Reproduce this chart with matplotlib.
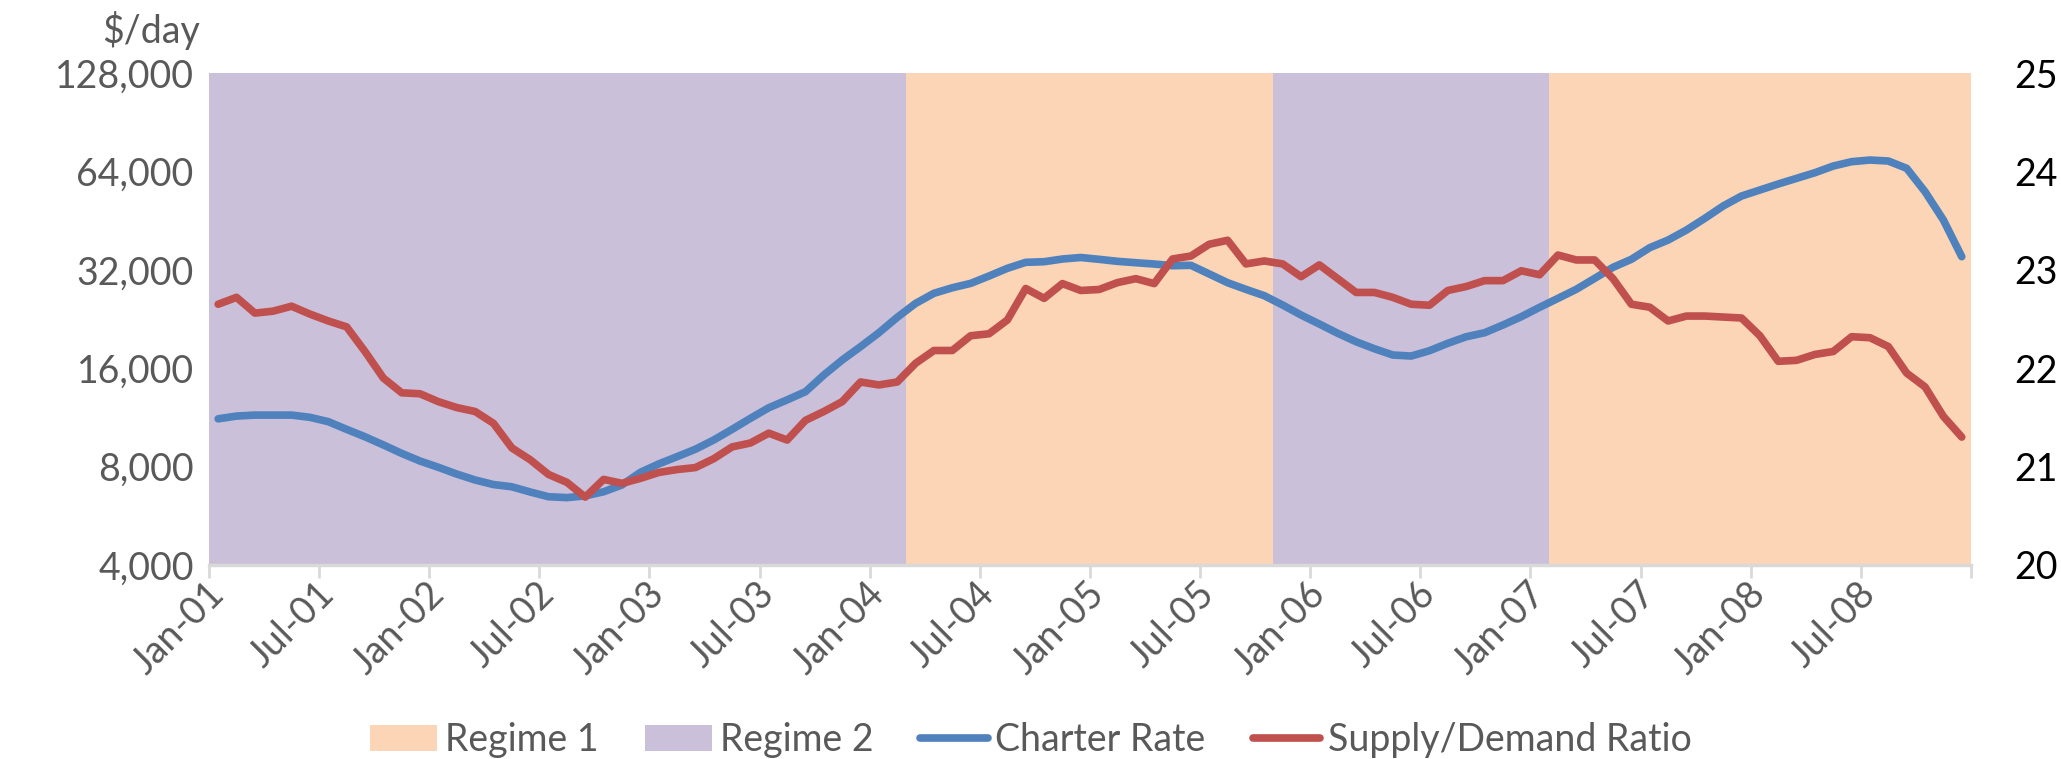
#!/usr/bin/env python3
"""
Charter rate vs supply/demand ratio, with regime shading.
"""

import numpy as np
import matplotlib

matplotlib.use("Agg")
import matplotlib.pyplot as plt
from matplotlib.lines import Line2D
from matplotlib.patches import Patch
from matplotlib.ticker import FuncFormatter, NullLocator

# =====================================================================
# Data (monthly, Jan-01 .. Dec-08)
# =====================================================================

charter_rate = [
    11200, 11420, 11500, 11500, 11500, 11320, 10980, 10400, 9870, 9320,
    8780, 8320, 7960, 7590, 7280, 7050, 6940, 6690, 6470, 6430,
    6510, 6700, 7030, 7680, 8150, 8580, 9040, 9650, 10400, 11240,
    12110, 12800, 13560, 15250, 16950, 18620, 20540, 22900, 25260, 27120,
    28200, 29080, 30630, 32340, 33730, 33880, 34530, 34900, 34450, 33970,
    33640, 33330, 32940, 33030, 31070, 29220, 27880, 26660, 24970, 23270,
    21840, 20460, 19280, 18350, 17560, 17430, 18100, 19070, 19970, 20540,
    21690, 23000, 24570, 26170, 27900, 30130, 32570, 34460, 37400, 39460,
    42350, 45990, 50160, 53820, 56140, 58560, 60950, 63420, 66480, 68540,
    69340, 68860, 65400, 55480, 45440, 35100,
]

supply_demand = [
    22.65, 22.72, 22.56, 22.58, 22.63, 22.55, 22.48, 22.42, 22.17, 21.90,
    21.75, 21.74, 21.66, 21.60, 21.56, 21.44, 21.19, 21.07, 20.92, 20.84,
    20.69, 20.87, 20.83, 20.88, 20.94, 20.97, 20.99, 21.08, 21.20, 21.24,
    21.34, 21.27, 21.47, 21.56, 21.66, 21.86, 21.83, 21.86, 22.05, 22.18,
    22.18, 22.33, 22.35, 22.49, 22.81, 22.71, 22.86, 22.79, 22.80, 22.87,
    22.91, 22.86, 23.11, 23.14, 23.26, 23.30, 23.06, 23.09, 23.06, 22.93,
    23.05, 22.91, 22.77, 22.77, 22.72, 22.65, 22.64, 22.79, 22.83, 22.89,
    22.89, 22.99, 22.95, 23.15, 23.10, 23.10, 22.91, 22.65, 22.62, 22.48,
    22.53, 22.53, 22.52, 22.51, 22.33, 22.07, 22.08, 22.14, 22.17, 22.32,
    22.31, 22.22, 21.95, 21.81, 21.51, 21.30,
]

# regime for each month: 2 = Regime 2, 1 = Regime 1
regime = [2] * 38 + [1] * 20 + [2] * 15 + [1] * 23

tick_labels = [
    "Jan-01", "Jul-01", "Jan-02", "Jul-02", "Jan-03", "Jul-03", "Jan-04", "Jul-04",
    "Jan-05", "Jul-05", "Jan-06", "Jul-06", "Jan-07", "Jul-07", "Jan-08", "Jul-08",
]

left_ticks = [4000, 8000, 16000, 32000, 64000, 128000]
right_ticks = [20, 21, 22, 23, 24, 25]

# =====================================================================
# Style
# =====================================================================

plt.rcParams["font.family"] = ["Lato", "DejaVu Sans"]

BLUE = "#4F81BD"
RED = "#C0504D"
REGIME_COLORS = {1: "#FBD5B5", 2: "#CBC0DA"}
GREY_TEXT = "#595959"
AXIS_GREY = "#D9D9D9"
FS = 27
LW = 5.5


def regime_runs(values):
    """Contiguous runs of equal regime -> (start, end, regime)"""
    runs = []
    start = 0
    for i in range(1, len(values) + 1):
        if i == len(values) or values[i] != values[start]:
            runs.append((start, i, values[start]))
            start = i
    return runs


def main():
    n = len(charter_rate)
    x = np.arange(n) + 0.5

    fig = plt.figure(figsize=(20.61, 7.59), dpi=100)
    ax = fig.add_axes([0.1014, 0.2556, 0.8549, 0.6482])

    # regime shading
    for start, end, r in regime_runs(regime):
        ax.axvspan(start, end, color=REGIME_COLORS[r], lw=0, zorder=0)

    # charter rate on log2 axis
    ax.plot(x, charter_rate, color=BLUE, lw=LW, solid_capstyle="round",
            solid_joinstyle="round", zorder=3)
    ax.set_yscale("log", base=2)
    ax.set_ylim(left_ticks[0], left_ticks[-1])
    ax.set_yticks(left_ticks)
    ax.yaxis.set_major_formatter(FuncFormatter(lambda v, _: f"{v:,.0f}"))
    ax.yaxis.set_minor_locator(NullLocator())
    ax.tick_params(axis="y", length=0, pad=11, labelsize=FS, labelcolor=GREY_TEXT)

    # x axis: tick marks at boundaries, labels at category centres
    ax.set_xlim(0, n)
    ax.set_xticks(np.arange(0, n + 1, 6))
    ax.set_xticklabels([])
    ax.tick_params(axis="x", which="major", length=9, width=2, color=AXIS_GREY)
    ax.set_xticks(np.arange(0, len(tick_labels) * 6, 6) + 0.5, minor=True)
    ax.set_xticklabels(tick_labels, minor=True, rotation=45, ha="right",
                       va="center", rotation_mode="anchor")
    ax.tick_params(axis="x", which="minor", length=0, pad=17,
                   labelsize=FS, labelcolor=GREY_TEXT)

    for side in ["top", "left", "right"]:
        ax.spines[side].set_visible(False)
    ax.spines["bottom"].set_color(AXIS_GREY)
    ax.spines["bottom"].set_linewidth(2.5)

    # supply/demand ratio on secondary axis
    ax2 = ax.twinx()
    ax2.plot(x, supply_demand, color=RED, lw=LW, solid_capstyle="round",
             solid_joinstyle="round", zorder=3)
    ax2.set_ylim(right_ticks[0], right_ticks[-1])
    ax2.set_yticks(right_ticks)
    ax2.tick_params(axis="y", length=0, pad=31, labelsize=FS, labelcolor="black")
    for side in ax2.spines:
        ax2.spines[side].set_visible(False)

    # unit label
    fig.text(200 / 2061, 1 - 30 / 759, r"\$/day", ha="right", va="center",
             fontsize=FS, color=GREY_TEXT)

    # legend
    handles = [
        Patch(facecolor=REGIME_COLORS[1], edgecolor="none"),
        Patch(facecolor=REGIME_COLORS[2], edgecolor="none"),
        Line2D([], [], color=BLUE, lw=LW, solid_capstyle="round"),
        Line2D([], [], color=RED, lw=LW, solid_capstyle="round"),
    ]
    labels = ["Regime 1", "Regime 2", "Charter Rate", "Supply/Demand Ratio"]
    fig.legend(handles, labels, loc="center", bbox_to_anchor=(0.5, 0.025),
               ncol=4, frameon=False, fontsize=FS, labelcolor=GREY_TEXT,
               handlelength=1.8, handleheight=0.7, handletextpad=0.2,
               columnspacing=1.25)

    fig.savefig("out.png", dpi=100)
    plt.close(fig)


if __name__ == "__main__":
    main()
